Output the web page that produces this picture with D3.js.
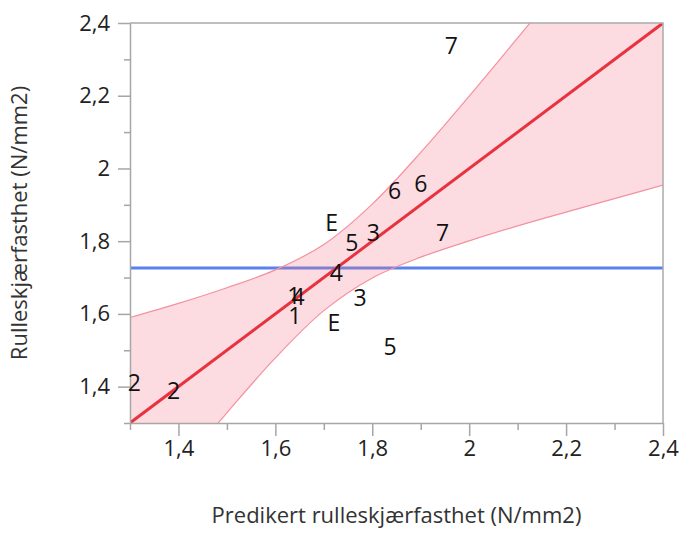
<!DOCTYPE html>
<html>
<head>
<meta charset="utf-8">
<script src="https://cdn.jsdelivr.net/npm/d3@7"></script>
<style>
  html, body { margin: 0; padding: 0; background: #fff; }
  svg { display: block; font-family: "Open Sans", "Noto Sans", sans-serif; }
</style>
</head>
<body>
<svg id="chart" width="680" height="533"></svg>
<script>
// Observed vs. predicted rolling shear strength, labelled by group
const pointLabels = ["7", "6", "6", "E", "3", "5", "7", "4", "1", "4", "1", "3", "E", "5", "2", "2"];
const predicted   = [1.963, 1.846, 1.900, 1.716, 1.802, 1.758, 1.945, 1.726, 1.638, 1.647, 1.640, 1.775, 1.721, 1.837, 1.309, 1.390];
const observed    = [2.337, 1.940, 1.959, 1.851, 1.822, 1.795, 1.822, 1.712, 1.650, 1.647, 1.595, 1.645, 1.577, 1.511, 1.412, 1.388];

// Mean of the response (horizontal reference line)
const meanResponse = 1.726;

// Fit line ends and confidence band for the fit
const fitX = [1.3, 2.4];
const fitY = [1.3, 2.4];
const bandX     = [1.3,   1.4,   1.5,   1.6,   1.7,   1.8,   1.9,   2.0,   2.1,   2.2,   2.3,   2.4];
const bandLower = [1.010, 1.171, 1.328, 1.479, 1.609, 1.699, 1.756, 1.801, 1.842, 1.880, 1.917, 1.954];
const bandUpper = [1.590, 1.629, 1.672, 1.721, 1.791, 1.902, 2.044, 2.199, 2.359, 2.520, 2.683, 2.846];

// Axis ticks
const majorTicks = [1.4, 1.6, 1.8, 2.0, 2.2, 2.4];
const minorTicks = [1.3, 1.5, 1.7, 1.9, 2.1, 2.3];
const domain = [1.3, 2.4];

const xTitle = "Predikert rulleskjærfasthet (N/mm2)";
const yTitle = "Rulleskjærfasthet (N/mm2)";

const W = 680, H = 533;
const margin = { top: 23, right: 17, bottom: 110, left: 130 };
const iw = W - margin.left - margin.right;
const ih = H - margin.top - margin.bottom;

const svg = d3.select("#chart");
const g = svg.append("g").attr("transform", `translate(${margin.left},${margin.top})`);

const x = d3.scaleLinear().domain(domain).range([0, iw]);
const y = d3.scaleLinear().domain(domain).range([ih, 0]);

const fmt = v => d3.format("~g")(v).replace(".", ",");

g.append("clipPath").attr("id", "plotClip")
  .append("rect").attr("width", iw).attr("height", ih);

const plot = g.append("g").attr("clip-path", "url(#plotClip)");

// Mean line
plot.append("line")
  .attr("x1", 0).attr("x2", iw)
  .attr("y1", y(meanResponse)).attr("y2", y(meanResponse))
  .attr("stroke", "#5a82ec").attr("stroke-width", 3);

// Confidence band
const band = bandX.map((v, i) => ({ x: v, lo: bandLower[i], hi: bandUpper[i] }));
plot.append("path")
  .datum(band)
  .attr("d", d3.area().x(d => x(d.x)).y0(d => y(d.lo)).y1(d => y(d.hi)).curve(d3.curveCatmullRom))
  .attr("fill", "rgba(242, 120, 140, 0.26)");
["lo", "hi"].forEach(k => {
  plot.append("path")
    .datum(band)
    .attr("d", d3.line().x(d => x(d.x)).y(d => y(d[k])).curve(d3.curveCatmullRom))
    .attr("fill", "none")
    .attr("stroke", "#f4919f").attr("stroke-width", 1.2);
});

// Fit line
plot.append("line")
  .attr("x1", x(fitX[0])).attr("y1", y(fitY[0]))
  .attr("x2", x(fitX[1])).attr("y2", y(fitY[1]))
  .attr("stroke", "#e8323f").attr("stroke-width", 3);

// Frame (top and right)
g.append("path")
  .attr("d", `M0,0H${iw}V${ih}`)
  .attr("fill", "none").attr("stroke", "#ababab").attr("stroke-width", 1.5);

// Axes
const axisColor = "#a6a6a6";
function styleAxis(sel) {
  sel.select(".domain").attr("stroke", axisColor).attr("stroke-width", 1.5);
  sel.selectAll(".tick line").attr("stroke", axisColor).attr("stroke-width", 1.5);
  sel.selectAll(".tick text").attr("fill", "#222").style("font-size", "22px")
    .style("font-family", "'Open Sans', 'Noto Sans', sans-serif");
}

const xAxis = g.append("g").attr("transform", `translate(0,${ih})`)
  .call(d3.axisBottom(x).tickValues(majorTicks).tickFormat(fmt).tickSize(13).tickSizeOuter(0).tickPadding(4));
styleAxis(xAxis);
g.append("g").attr("transform", `translate(0,${ih})`)
  .call(d3.axisBottom(x).tickValues(minorTicks).tickFormat("").tickSize(7).tickSizeOuter(0))
  .call(s => { s.select(".domain").remove(); s.selectAll(".tick line").attr("stroke", axisColor).attr("stroke-width", 1.5); });

const yAxis = g.append("g")
  .call(d3.axisLeft(y).tickValues(majorTicks).tickFormat(fmt).tickSize(12).tickSizeOuter(0).tickPadding(8));
styleAxis(yAxis);
g.append("g")
  .call(d3.axisLeft(y).tickValues(minorTicks).tickFormat("").tickSize(6).tickSizeOuter(0))
  .call(s => { s.select(".domain").remove(); s.selectAll(".tick line").attr("stroke", axisColor).attr("stroke-width", 1.5); });

// Point labels
g.append("g").selectAll("text")
  .data(pointLabels.map((t, i) => ({ t, px: predicted[i], py: observed[i] })))
  .join("text")
  .attr("x", d => x(d.px)).attr("y", d => y(d.py))
  .attr("dy", "0.36em")
  .attr("text-anchor", "middle")
  .attr("fill", "#111")
  .style("font-size", "23px")
  .text(d => d.t);

// Axis titles
svg.append("text")
  .attr("x", margin.left + iw / 2).attr("y", 523)
  .attr("text-anchor", "middle").attr("fill", "#333")
  .style("font-size", "22px")
  .text(xTitle);

svg.append("text")
  .attr("transform", `translate(27,${margin.top + ih / 2}) rotate(-90)`)
  .attr("text-anchor", "middle").attr("fill", "#333")
  .style("font-size", "22px")
  .text(yTitle);
</script>
</body>
</html>
